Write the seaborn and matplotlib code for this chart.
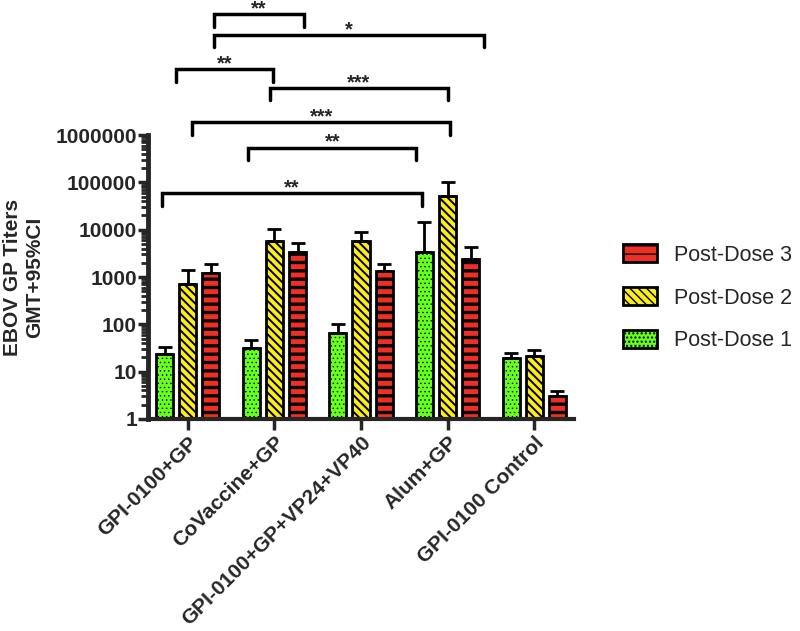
import numpy as np
import pandas as pd
import matplotlib
matplotlib.use("Agg")
import matplotlib.pyplot as plt
import matplotlib.ticker as mticker
from matplotlib.patches import Patch
import seaborn as sns

# groups and doses
groups = ["GPI-0100+GP", "CoVaccine+GP", "GPI-0100+GP+VP24+VP40", "Alum+GP", "GPI-0100 Control"]
doses = ["Post-Dose 1", "Post-Dose 2", "Post-Dose 3"]

# geometric mean titers per dose (one value per group)
gmt_dose1 = [24, 31, 66, 3300, 19]
gmt_dose2 = [720, 5900, 5900, 52000, 21]
gmt_dose3 = [1230, 3450, 1310, 2450, 3.0]

# upper 95% CI
ci_dose1 = [34, 47, 102, 14500, 25]
ci_dose2 = [1380, 10400, 8900, 100000, 28]
ci_dose3 = [1900, 5200, 1870, 4250, 3.9]

# significance brackets (x in category units, height in titer units)
br_left = [0.30, 0.30, -0.14, 0.95, 0.05, 0.70, -0.30]
br_right = [1.34, 3.42, 0.98, 3.00, 3.03, 2.64, 2.70]
br_height = [10**8.55, 10**8.11, 10**7.39, 10**6.99, 10**6.27, 10**5.73, 10**4.77]
br_label = ["**", "*", "**", "***", "***", "**", "**"]

colors = ["#66ff1e", "#fbec1c", "#ee3024"]
hatches = ["....", "\\\\\\\\", "--"]
hatch_lw = [0.5, 1.4, 2.4]

df = pd.DataFrame({
    "group": groups * 3,
    "dose": [d for d in doses for _ in groups],
    "gmt": gmt_dose1 + gmt_dose2 + gmt_dose3,
})
upper = [ci_dose1, ci_dose2, ci_dose3]
gmts = [gmt_dose1, gmt_dose2, gmt_dose3]

sns.set_style("ticks")
plt.rcParams["font.family"] = ["Liberation Sans", "DejaVu Sans"]
plt.rcParams["hatch.linewidth"] = 1.0

fig = plt.figure(figsize=(8, 6.31), dpi=100)
ax = fig.add_axes([0.185, 0.336, 0.5325, 0.450])

sns.barplot(data=df, x="group", y="gmt", hue="dose", order=groups, hue_order=doses,
            palette=colors, saturation=1, width=0.8, gap=0.26, edgecolor="black",
            linewidth=2, legend=False, errorbar=None, ax=ax)

bar_sets = list(ax.containers)
for k, cont in enumerate(bar_sets):
    xs = []
    for p in cont.patches:
        p.set_hatch(hatches[k])
        if hasattr(p, "set_hatch_linewidth"):
            p.set_hatch_linewidth(hatch_lw[k])
        xs.append(p.get_x() + p.get_width() / 2)
    vals = np.array(gmts[k], dtype=float)
    up = np.array(upper[k], dtype=float)
    ax.errorbar(xs, vals, yerr=[np.zeros_like(vals), up - vals], fmt="none",
                ecolor="black", elinewidth=2, capsize=5, capthick=2, zorder=1)

ax.set_yscale("log")
ax.set_ylim(1, 1e6)
ax.set_xlim(-0.46, 4.46)
ax.yaxis.set_major_locator(mticker.FixedLocator([10**i for i in range(7)]))
ax.yaxis.set_major_formatter(mticker.FuncFormatter(lambda v, _: f"{int(round(v))}"))
ax.yaxis.set_minor_locator(mticker.LogLocator(base=10, subs=np.arange(2, 10)))
ax.yaxis.set_minor_formatter(mticker.NullFormatter())

for lab in ax.get_yticklabels():
    lab.set_fontweight("bold")
    lab.set_fontsize(15)
ax.tick_params(axis="y", which="major", length=7, width=2.5, pad=1)
ax.tick_params(axis="y", which="minor", length=5, width=2)
ax.tick_params(axis="x", length=8, width=2.5, pad=2)
ax.set_xticks(range(len(groups)))
ax.set_xticklabels(groups, rotation=45, ha="right", rotation_mode="anchor",
                   fontweight="bold", fontsize=15)

for s in ["top", "right"]:
    ax.spines[s].set_visible(False)
ax.spines["left"].set_linewidth(3.5)
ax.spines["bottom"].set_linewidth(3)

ax.set_xlabel("")
ax.set_ylabel("EBOV GP Titers\nGMT+95%CI", fontsize=15, fontweight="bold", labelpad=8)

# significance brackets
drop = 10**(-0.26)
for x0, x1, h, lab in zip(br_left, br_right, br_height, br_label):
    ax.plot([x0, x0, x1, x1], [h * drop, h, h, h * drop], color="black", lw=2.5,
            clip_on=False, solid_capstyle="round", solid_joinstyle="miter")
    ax.annotate(lab, xy=((x0 + x1) / 2, h), xytext=(0, 0), textcoords="offset points",
                ha="center", va="baseline", fontsize=14.5, fontweight="bold",
                annotation_clip=False)

handles = []
for k in [2, 1, 0]:
    hp = Patch(facecolor=colors[k], edgecolor="black", hatch=hatches[k], linewidth=2,
               label=doses[k])
    if hasattr(hp, "set_hatch_linewidth"):
        hp.set_hatch_linewidth(hatch_lw[k])
    handles.append(hp)
fig.legend(handles=handles, loc="center left", bbox_to_anchor=(0.779, 0.528),
           frameon=False, fontsize=15.5, handlelength=1.55, handleheight=0.9,
           handletextpad=0.8, labelspacing=1.0, borderpad=0, borderaxespad=0)

fig.savefig("out.png", dpi=100)
